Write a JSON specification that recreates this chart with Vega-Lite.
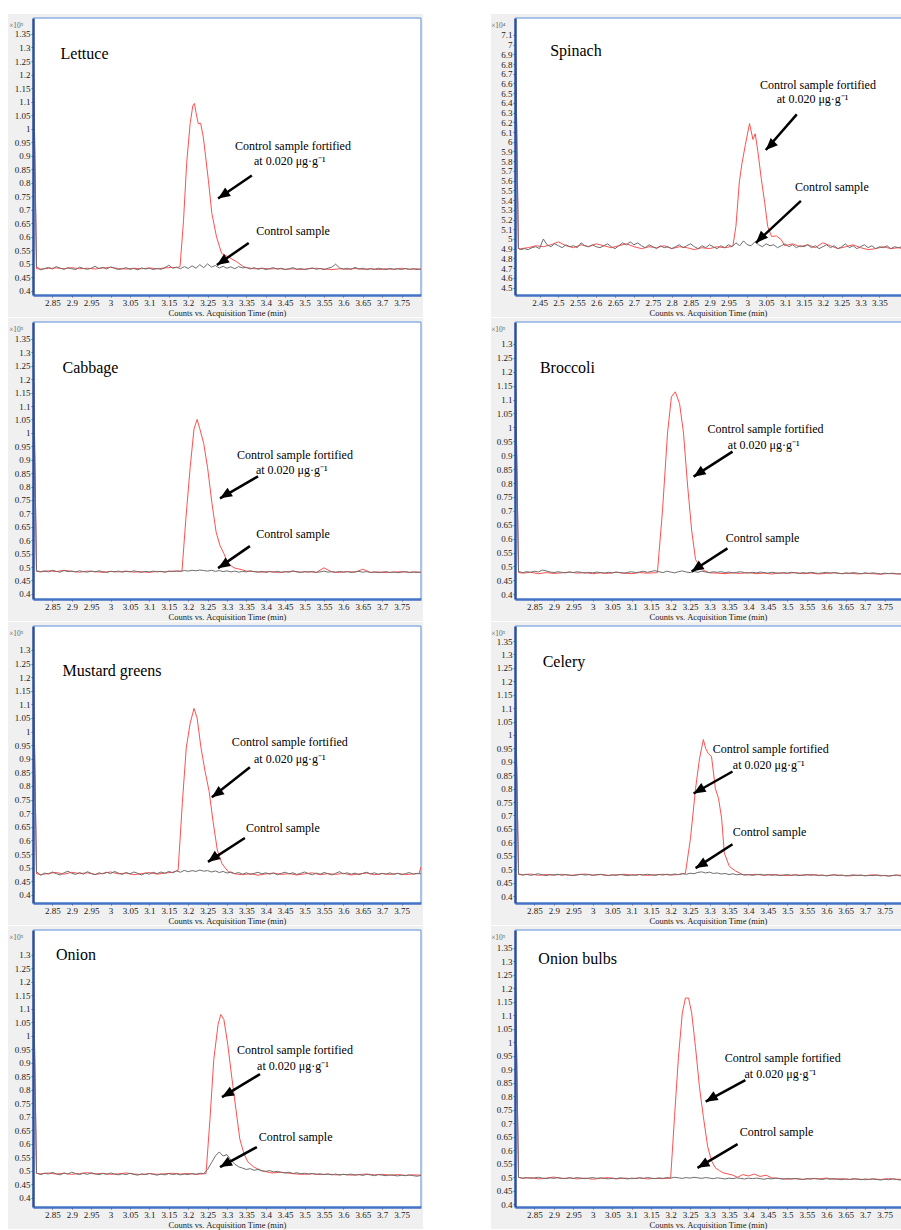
{
"$schema": "https://vega.github.io/schema/vega-lite/v6.json",
"background": "white",
"padding": {"left": 8, "top": 13, "right": 0, "bottom": 0},
"config": {
  "view": {"stroke": null},
  "axis": {"labelFont": "Liberation Serif", "titleFont": "Liberation Serif", "labelFontSize": 9, "labelColor": "#1a1a1a", "tickColor": "#444", "tickSize": 2, "tickWidth": 0.8, "grid": false, "titleFontWeight": "normal", "domainWidth": 2.5, "labelPadding": 1, "labelOverlap": false, "labelFlush": false, "tickCount": 100},
  "axisX": {"domainColor": "#4472c4", "titleFontSize": 8.5, "titlePadding": 1, "labelAngle": 0, "titleColor": "#1a1a1a"},
  "axisY": {"domainColor": "#2b4f9c", "titleAngle": 0, "titleAlign": "right", "titleBaseline": "middle", "titleX": -10, "titleY": 7, "titleFontSize": 7.5, "titleColor": "#666"},
  "text": {"font": "Liberation Serif", "color": "black"}
},
"datasets": {
"sig": [
{"p":"Lettuce","s":"F","t":[2.801,2.809,2.82,2.84,2.86,2.88,2.9,2.92,2.94,2.96,2.98,3,3.02,3.04,3.06,3.08,3.1,3.12,3.14,3.16,3.17,3.179,3.188,3.196,3.205,3.212,3.216,3.22,3.226,3.232,3.239,3.252,3.261,3.273,3.286,3.303,3.325,3.34,3.35,3.37,3.39,3.41,3.43,3.45,3.47,3.49,3.51,3.53,3.55,3.57,3.59,3.61,3.63,3.65,3.67,3.69,3.71,3.73,3.75,3.77,3.79,3.8],
 "v":[1.27,0.482,0.481,0.483,0.485,0.482,0.486,0.482,0.484,0.481,0.485,0.487,0.483,0.481,0.484,0.482,0.485,0.482,0.485,0.487,0.486,0.49,0.661,0.871,1.019,1.085,1.093,1.06,1.018,1.02,0.968,0.809,0.686,0.6,0.539,0.526,0.508,0.492,0.486,0.482,0.484,0.481,0.483,0.48,0.482,0.479,0.482,0.484,0.481,0.479,0.482,0.48,0.483,0.48,0.482,0.479,0.482,0.48,0.484,0.48,0.482,0.48]},
{"p":"Lettuce","s":"C","t":[2.801,2.809,2.82,2.83,2.84,2.85,2.86,2.87,2.88,2.89,2.9,2.91,2.92,2.93,2.94,2.95,2.96,2.97,2.98,2.99,3,3.01,3.02,3.03,3.04,3.05,3.06,3.07,3.08,3.09,3.1,3.11,3.12,3.13,3.14,3.15,3.16,3.17,3.18,3.19,3.2,3.21,3.22,3.23,3.24,3.25,3.26,3.27,3.28,3.29,3.3,3.31,3.32,3.33,3.34,3.35,3.36,3.37,3.38,3.39,3.4,3.41,3.42,3.43,3.44,3.45,3.46,3.47,3.48,3.49,3.5,3.51,3.52,3.53,3.54,3.55,3.56,3.57,3.58,3.59,3.6,3.61,3.62,3.63,3.64,3.65,3.66,3.67,3.68,3.69,3.7,3.71,3.72,3.73,3.74,3.75,3.76,3.77,3.78,3.79,3.8],
 "v":[1.28,0.49,0.478,0.483,0.487,0.481,0.49,0.484,0.48,0.486,0.482,0.479,0.488,0.483,0.48,0.484,0.491,0.483,0.487,0.481,0.489,0.484,0.479,0.482,0.486,0.48,0.483,0.478,0.485,0.481,0.484,0.479,0.483,0.48,0.486,0.495,0.484,0.488,0.482,0.49,0.483,0.493,0.484,0.497,0.486,0.5,0.488,0.494,0.485,0.491,0.484,0.489,0.482,0.49,0.485,0.487,0.481,0.486,0.48,0.484,0.479,0.483,0.486,0.48,0.484,0.479,0.482,0.486,0.48,0.483,0.479,0.482,0.485,0.48,0.483,0.479,0.484,0.488,0.499,0.485,0.481,0.484,0.48,0.487,0.481,0.484,0.479,0.482,0.48,0.484,0.481,0.479,0.483,0.48,0.482,0.479,0.483,0.48,0.482,0.479,0.481]},
{"p":"Spinach","s":"F","t":[2.386,2.394,2.4,2.42,2.44,2.46,2.48,2.5,2.52,2.54,2.56,2.58,2.6,2.62,2.64,2.66,2.68,2.7,2.72,2.74,2.76,2.78,2.8,2.82,2.84,2.86,2.88,2.9,2.92,2.94,2.955,2.962,2.97,2.979,2.986,2.995,3.006,3.015,3.021,3.028,3.037,3.046,3.054,3.064,3.077,3.09,3.099,3.12,3.14,3.16,3.18,3.2,3.22,3.24,3.26,3.28,3.3,3.32,3.34,3.36,3.38,3.4,3.41],
 "v":[7.12,4.9,4.9,4.91,4.93,4.92,4.94,4.97,4.93,4.91,4.94,4.92,4.95,4.93,4.91,4.93,4.95,4.92,4.9,4.92,4.91,4.93,4.9,4.92,4.91,4.89,4.91,4.9,4.92,4.91,4.92,4.93,5.132,5.587,5.779,5.971,6.188,6.023,6.083,5.901,5.622,5.377,5.13,5.027,5.03,4.993,4.93,4.95,4.92,4.94,4.91,4.96,4.93,4.9,4.92,4.94,4.91,4.89,4.9,4.92,4.9,4.91,4.9]},
{"p":"Spinach","s":"C","t":[2.386,2.394,2.4,2.41,2.42,2.43,2.44,2.45,2.46,2.47,2.48,2.49,2.5,2.51,2.52,2.53,2.54,2.55,2.56,2.57,2.58,2.59,2.6,2.61,2.62,2.63,2.64,2.65,2.66,2.67,2.68,2.69,2.7,2.71,2.72,2.73,2.74,2.75,2.76,2.77,2.78,2.79,2.8,2.81,2.82,2.83,2.84,2.85,2.86,2.87,2.88,2.89,2.9,2.91,2.92,2.93,2.94,2.95,2.96,2.97,2.98,2.99,3,3.01,3.02,3.03,3.04,3.05,3.06,3.07,3.08,3.09,3.1,3.11,3.12,3.13,3.14,3.15,3.16,3.17,3.18,3.19,3.2,3.21,3.22,3.23,3.24,3.25,3.26,3.27,3.28,3.29,3.3,3.31,3.32,3.33,3.34,3.35,3.36,3.37,3.38,3.39,3.4,3.41],
 "v":[7.1,4.9,4.89,4.9,4.89,4.91,4.92,4.9,5,4.94,4.92,4.95,4.93,4.91,4.94,4.92,4.93,4.91,4.96,4.93,4.92,4.94,4.92,4.91,4.93,4.95,4.92,4.9,4.93,4.96,4.94,4.97,4.94,4.96,4.93,4.91,4.94,4.92,4.9,4.93,4.91,4.92,4.9,4.92,4.94,4.91,4.93,4.95,4.92,4.9,4.93,4.91,4.94,4.92,4.9,4.93,4.91,4.94,4.92,4.96,4.93,4.98,4.94,4.93,4.97,4.94,4.92,4.95,4.93,4.94,4.91,4.93,4.95,4.92,4.94,4.91,4.93,4.92,4.94,4.91,4.93,4.9,4.92,4.94,4.91,4.93,4.9,4.92,4.95,4.91,4.93,4.9,4.92,4.94,4.91,4.93,4.9,4.92,4.91,4.93,4.9,4.92,4.91,4.92]},
{"p":"Cabbage","s":"F","t":[2.801,2.809,2.82,2.84,2.86,2.88,2.9,2.92,2.94,2.96,2.98,3,3.02,3.04,3.06,3.08,3.1,3.12,3.14,3.16,3.17,3.184,3.194,3.205,3.215,3.223,3.23,3.24,3.25,3.261,3.272,3.282,3.292,3.302,3.318,3.339,3.35,3.37,3.39,3.41,3.43,3.45,3.47,3.49,3.51,3.53,3.55,3.57,3.59,3.61,3.63,3.65,3.67,3.69,3.71,3.73,3.75,3.77,3.79,3.8],
 "v":[1.27,0.484,0.482,0.486,0.483,0.488,0.484,0.481,0.485,0.483,0.48,0.484,0.482,0.485,0.481,0.483,0.48,0.484,0.482,0.485,0.484,0.485,0.68,0.87,1.015,1.05,1.015,0.96,0.87,0.74,0.63,0.58,0.55,0.515,0.497,0.49,0.485,0.483,0.481,0.484,0.48,0.482,0.485,0.481,0.483,0.48,0.497,0.482,0.48,0.483,0.481,0.492,0.48,0.482,0.479,0.481,0.483,0.48,0.482,0.48]},
{"p":"Cabbage","s":"C","t":[2.801,2.809,2.82,2.83,2.84,2.85,2.86,2.87,2.88,2.89,2.9,2.91,2.92,2.93,2.94,2.95,2.96,2.97,2.98,2.99,3,3.01,3.02,3.03,3.04,3.05,3.06,3.07,3.08,3.09,3.1,3.11,3.12,3.13,3.14,3.15,3.16,3.17,3.18,3.19,3.2,3.21,3.22,3.23,3.24,3.25,3.26,3.27,3.28,3.29,3.3,3.31,3.32,3.33,3.34,3.35,3.36,3.37,3.38,3.39,3.4,3.41,3.42,3.43,3.44,3.45,3.46,3.47,3.48,3.49,3.5,3.51,3.52,3.53,3.54,3.55,3.56,3.57,3.58,3.59,3.6,3.61,3.62,3.63,3.64,3.65,3.66,3.67,3.68,3.69,3.7,3.71,3.72,3.73,3.74,3.75,3.76,3.77,3.78,3.79,3.8],
 "v":[1.28,0.486,0.483,0.486,0.482,0.488,0.484,0.481,0.487,0.483,0.485,0.482,0.486,0.483,0.481,0.485,0.482,0.486,0.483,0.48,0.484,0.482,0.485,0.481,0.484,0.482,0.486,0.483,0.48,0.484,0.482,0.485,0.482,0.484,0.481,0.485,0.483,0.486,0.484,0.487,0.485,0.488,0.486,0.489,0.487,0.485,0.488,0.484,0.487,0.483,0.486,0.482,0.485,0.481,0.484,0.482,0.486,0.483,0.481,0.484,0.48,0.483,0.481,0.484,0.48,0.483,0.481,0.485,0.482,0.48,0.483,0.481,0.484,0.48,0.482,0.485,0.481,0.483,0.48,0.484,0.481,0.483,0.48,0.482,0.484,0.481,0.483,0.48,0.482,0.479,0.481,0.483,0.48,0.482,0.479,0.481,0.483,0.48,0.482,0.48,0.481]},
{"p":"Broccoli","s":"F","t":[2.801,2.809,2.82,2.84,2.86,2.88,2.9,2.92,2.94,2.96,2.98,3,3.02,3.04,3.06,3.08,3.1,3.12,3.14,3.155,3.166,3.179,3.192,3.202,3.212,3.223,3.233,3.243,3.254,3.264,3.279,3.3,3.32,3.34,3.36,3.38,3.4,3.42,3.44,3.46,3.48,3.5,3.52,3.54,3.56,3.58,3.6,3.62,3.64,3.66,3.68,3.7,3.72,3.74,3.76,3.78,3.8],
 "v":[1.21,0.478,0.476,0.479,0.474,0.478,0.475,0.477,0.48,0.476,0.478,0.474,0.477,0.475,0.479,0.476,0.474,0.478,0.476,0.477,0.478,0.7,0.98,1.11,1.128,1.085,0.98,0.8,0.63,0.525,0.49,0.477,0.476,0.474,0.477,0.475,0.478,0.474,0.476,0.473,0.477,0.475,0.478,0.474,0.476,0.473,0.475,0.477,0.474,0.476,0.473,0.475,0.474,0.472,0.475,0.473,0.474]},
{"p":"Broccoli","s":"C","t":[2.801,2.809,2.82,2.83,2.84,2.85,2.86,2.87,2.88,2.89,2.9,2.91,2.92,2.93,2.94,2.95,2.96,2.97,2.98,2.99,3,3.01,3.02,3.03,3.04,3.05,3.06,3.07,3.08,3.09,3.1,3.11,3.12,3.13,3.14,3.15,3.16,3.17,3.18,3.19,3.2,3.21,3.22,3.23,3.24,3.25,3.26,3.27,3.28,3.29,3.3,3.31,3.32,3.33,3.34,3.35,3.36,3.37,3.38,3.39,3.4,3.41,3.42,3.43,3.44,3.45,3.46,3.47,3.48,3.49,3.5,3.51,3.52,3.53,3.54,3.55,3.56,3.57,3.58,3.59,3.6,3.61,3.62,3.63,3.64,3.65,3.66,3.67,3.68,3.69,3.7,3.71,3.72,3.73,3.74,3.75,3.76,3.77,3.78,3.79,3.8],
 "v":[1.22,0.482,0.478,0.481,0.479,0.483,0.48,0.487,0.484,0.48,0.478,0.481,0.479,0.477,0.48,0.478,0.481,0.479,0.476,0.479,0.477,0.48,0.478,0.476,0.479,0.477,0.48,0.478,0.476,0.479,0.481,0.478,0.48,0.483,0.479,0.482,0.485,0.481,0.478,0.483,0.48,0.477,0.481,0.484,0.48,0.478,0.482,0.479,0.483,0.48,0.478,0.481,0.479,0.481,0.478,0.48,0.477,0.479,0.481,0.478,0.476,0.479,0.477,0.48,0.478,0.476,0.479,0.477,0.475,0.478,0.476,0.479,0.477,0.475,0.478,0.476,0.479,0.477,0.475,0.477,0.479,0.476,0.478,0.476,0.474,0.477,0.475,0.478,0.476,0.474,0.477,0.475,0.477,0.475,0.473,0.476,0.474,0.476,0.474,0.473,0.475]},
{"p":"Mustard","s":"F","t":[2.801,2.809,2.82,2.84,2.86,2.88,2.9,2.92,2.94,2.96,2.98,3,3.02,3.04,3.06,3.08,3.1,3.12,3.14,3.16,3.174,3.185,3.195,3.205,3.215,3.223,3.233,3.244,3.254,3.264,3.275,3.287,3.303,3.321,3.34,3.36,3.38,3.4,3.42,3.44,3.46,3.48,3.5,3.52,3.54,3.56,3.58,3.6,3.62,3.64,3.66,3.68,3.7,3.72,3.74,3.76,3.78,3.795,3.8],
 "v":[1.22,0.478,0.474,0.479,0.482,0.476,0.483,0.478,0.481,0.475,0.479,0.484,0.477,0.48,0.474,0.478,0.482,0.476,0.48,0.483,0.49,0.74,0.94,1.03,1.085,1.05,0.94,0.85,0.78,0.67,0.565,0.515,0.485,0.477,0.474,0.478,0.472,0.477,0.48,0.475,0.478,0.473,0.477,0.481,0.474,0.478,0.475,0.479,0.473,0.477,0.48,0.474,0.478,0.475,0.479,0.474,0.477,0.478,0.503]},
{"p":"Mustard","s":"C","t":[2.801,2.809,2.82,2.83,2.84,2.85,2.86,2.87,2.88,2.89,2.9,2.91,2.92,2.93,2.94,2.95,2.96,2.97,2.98,2.99,3,3.01,3.02,3.03,3.04,3.05,3.06,3.07,3.08,3.09,3.1,3.11,3.12,3.13,3.14,3.15,3.16,3.17,3.18,3.19,3.2,3.21,3.22,3.23,3.24,3.25,3.26,3.27,3.28,3.29,3.3,3.31,3.32,3.33,3.34,3.35,3.36,3.37,3.38,3.39,3.4,3.41,3.42,3.43,3.44,3.45,3.46,3.47,3.48,3.49,3.5,3.51,3.52,3.53,3.54,3.55,3.56,3.57,3.58,3.59,3.6,3.61,3.62,3.63,3.64,3.65,3.66,3.67,3.68,3.69,3.7,3.71,3.72,3.73,3.74,3.75,3.76,3.77,3.78,3.79,3.8],
 "v":[1.23,0.485,0.472,0.48,0.476,0.484,0.478,0.473,0.481,0.487,0.479,0.475,0.482,0.476,0.485,0.479,0.474,0.481,0.477,0.483,0.478,0.486,0.48,0.475,0.482,0.477,0.484,0.479,0.473,0.48,0.476,0.483,0.478,0.484,0.479,0.486,0.481,0.488,0.483,0.49,0.485,0.489,0.486,0.491,0.487,0.489,0.484,0.488,0.482,0.486,0.48,0.484,0.478,0.482,0.476,0.481,0.475,0.479,0.483,0.477,0.481,0.476,0.48,0.474,0.479,0.483,0.477,0.481,0.475,0.479,0.484,0.478,0.474,0.48,0.476,0.482,0.478,0.473,0.479,0.485,0.477,0.481,0.476,0.48,0.474,0.479,0.483,0.477,0.481,0.475,0.479,0.476,0.481,0.475,0.479,0.474,0.478,0.482,0.476,0.479,0.477]},
{"p":"Celery","s":"F","t":[2.801,2.809,2.82,2.84,2.86,2.88,2.9,2.92,2.94,2.96,2.98,3,3.02,3.04,3.06,3.08,3.1,3.12,3.14,3.16,3.18,3.2,3.22,3.238,3.251,3.264,3.274,3.284,3.29,3.297,3.305,3.315,3.323,3.331,3.338,3.351,3.367,3.385,3.4,3.42,3.44,3.46,3.48,3.5,3.52,3.54,3.56,3.58,3.6,3.62,3.64,3.66,3.68,3.7,3.72,3.74,3.76,3.78,3.8],
 "v":[1.17,0.48,0.479,0.482,0.477,0.48,0.478,0.481,0.477,0.479,0.482,0.478,0.48,0.477,0.479,0.481,0.478,0.48,0.477,0.479,0.481,0.478,0.48,0.485,0.615,0.8,0.91,0.983,0.95,0.93,0.92,0.8,0.764,0.69,0.56,0.51,0.493,0.48,0.479,0.481,0.477,0.48,0.478,0.476,0.479,0.477,0.48,0.478,0.476,0.479,0.477,0.475,0.478,0.476,0.479,0.477,0.475,0.478,0.477]},
{"p":"Celery","s":"C","t":[2.801,2.809,2.82,2.83,2.84,2.85,2.86,2.87,2.88,2.89,2.9,2.91,2.92,2.93,2.94,2.95,2.96,2.97,2.98,2.99,3,3.01,3.02,3.03,3.04,3.05,3.06,3.07,3.08,3.09,3.1,3.11,3.12,3.13,3.14,3.15,3.16,3.17,3.18,3.19,3.2,3.21,3.22,3.23,3.24,3.25,3.26,3.27,3.28,3.29,3.3,3.31,3.32,3.33,3.34,3.35,3.36,3.37,3.38,3.39,3.4,3.41,3.42,3.43,3.44,3.45,3.46,3.47,3.48,3.49,3.5,3.51,3.52,3.53,3.54,3.55,3.56,3.57,3.58,3.59,3.6,3.61,3.62,3.63,3.64,3.65,3.66,3.67,3.68,3.69,3.7,3.71,3.72,3.73,3.74,3.75,3.76,3.77,3.78,3.79,3.8],
 "v":[1.18,0.483,0.478,0.481,0.477,0.48,0.483,0.479,0.476,0.48,0.478,0.481,0.477,0.48,0.478,0.476,0.479,0.481,0.478,0.48,0.477,0.479,0.481,0.478,0.476,0.479,0.477,0.48,0.478,0.476,0.479,0.477,0.48,0.478,0.481,0.479,0.477,0.48,0.478,0.481,0.479,0.482,0.48,0.483,0.481,0.485,0.483,0.488,0.49,0.486,0.489,0.484,0.486,0.482,0.484,0.48,0.483,0.479,0.481,0.478,0.48,0.477,0.479,0.481,0.478,0.48,0.477,0.479,0.476,0.478,0.48,0.477,0.479,0.476,0.478,0.48,0.477,0.479,0.476,0.478,0.475,0.477,0.479,0.476,0.478,0.475,0.477,0.479,0.476,0.478,0.475,0.477,0.476,0.478,0.475,0.477,0.474,0.476,0.478,0.475,0.477]},
{"p":"Onion","s":"F","t":[2.801,2.809,2.82,2.84,2.86,2.88,2.9,2.92,2.94,2.96,2.98,3,3.02,3.04,3.06,3.08,3.1,3.12,3.14,3.16,3.18,3.2,3.22,3.24,3.246,3.256,3.266,3.277,3.284,3.292,3.302,3.313,3.323,3.333,3.344,3.354,3.369,3.39,3.416,3.44,3.46,3.48,3.5,3.52,3.54,3.56,3.58,3.6,3.62,3.64,3.66,3.68,3.7,3.72,3.74,3.76,3.78,3.8],
 "v":[1.24,0.49,0.489,0.492,0.488,0.491,0.487,0.49,0.493,0.488,0.491,0.487,0.489,0.492,0.488,0.486,0.49,0.487,0.489,0.491,0.488,0.49,0.487,0.489,0.49,0.69,0.913,1.042,1.079,1.06,0.968,0.839,0.728,0.618,0.562,0.533,0.514,0.5,0.492,0.495,0.491,0.488,0.487,0.489,0.486,0.488,0.485,0.487,0.484,0.486,0.488,0.485,0.487,0.484,0.486,0.483,0.485,0.484]},
{"p":"Onion","s":"C","t":[2.801,2.809,2.82,2.83,2.84,2.85,2.86,2.87,2.88,2.89,2.9,2.91,2.92,2.93,2.94,2.95,2.96,2.97,2.98,2.99,3,3.01,3.02,3.03,3.04,3.05,3.06,3.07,3.08,3.09,3.1,3.11,3.12,3.13,3.14,3.15,3.16,3.17,3.18,3.19,3.2,3.21,3.22,3.23,3.24,3.25,3.26,3.27,3.28,3.29,3.3,3.31,3.32,3.33,3.34,3.35,3.36,3.37,3.38,3.39,3.4,3.41,3.42,3.43,3.44,3.45,3.46,3.47,3.48,3.49,3.5,3.51,3.52,3.53,3.54,3.55,3.56,3.57,3.58,3.59,3.6,3.61,3.62,3.63,3.64,3.65,3.66,3.67,3.68,3.69,3.7,3.71,3.72,3.73,3.74,3.75,3.76,3.77,3.78,3.79,3.8],
 "v":[1.25,0.492,0.486,0.491,0.488,0.494,0.489,0.485,0.492,0.488,0.495,0.49,0.486,0.491,0.487,0.493,0.489,0.486,0.49,0.487,0.492,0.488,0.485,0.489,0.486,0.491,0.487,0.484,0.489,0.486,0.49,0.487,0.484,0.488,0.485,0.49,0.486,0.489,0.485,0.488,0.486,0.49,0.487,0.491,0.49,0.505,0.53,0.555,0.57,0.555,0.56,0.54,0.525,0.515,0.51,0.505,0.508,0.502,0.505,0.5,0.498,0.501,0.496,0.498,0.494,0.492,0.495,0.49,0.493,0.489,0.491,0.488,0.49,0.487,0.489,0.486,0.488,0.485,0.488,0.484,0.487,0.485,0.488,0.484,0.486,0.483,0.487,0.485,0.482,0.486,0.484,0.482,0.485,0.483,0.481,0.484,0.482,0.485,0.482,0.48,0.483]},
{"p":"Bulbs","s":"F","t":[2.801,2.809,2.82,2.84,2.86,2.88,2.9,2.92,2.94,2.96,2.98,3,3.02,3.04,3.06,3.08,3.1,3.12,3.14,3.16,3.18,3.2,3.21,3.22,3.23,3.238,3.246,3.254,3.264,3.274,3.284,3.295,3.305,3.315,3.326,3.336,3.346,3.36,3.372,3.385,3.4,3.415,3.43,3.445,3.46,3.48,3.5,3.52,3.54,3.56,3.58,3.6,3.62,3.64,3.66,3.68,3.7,3.72,3.74,3.76,3.78,3.8],
 "v":[1.27,0.5,0.496,0.499,0.494,0.497,0.501,0.495,0.498,0.494,0.497,0.493,0.496,0.499,0.494,0.497,0.495,0.498,0.494,0.496,0.495,0.497,0.725,0.944,1.109,1.164,1.164,1.109,0.98,0.835,0.725,0.615,0.561,0.535,0.524,0.516,0.513,0.508,0.5,0.51,0.505,0.512,0.503,0.508,0.498,0.496,0.493,0.495,0.492,0.496,0.494,0.497,0.493,0.495,0.492,0.494,0.491,0.494,0.492,0.495,0.493,0.492]},
{"p":"Bulbs","s":"C","t":[2.801,2.809,2.82,2.83,2.84,2.85,2.86,2.87,2.88,2.89,2.9,2.91,2.92,2.93,2.94,2.95,2.96,2.97,2.98,2.99,3,3.01,3.02,3.03,3.04,3.05,3.06,3.07,3.08,3.09,3.1,3.11,3.12,3.13,3.14,3.15,3.16,3.17,3.18,3.19,3.2,3.21,3.22,3.23,3.24,3.25,3.26,3.27,3.28,3.29,3.3,3.31,3.32,3.33,3.34,3.35,3.36,3.37,3.38,3.39,3.4,3.41,3.42,3.43,3.44,3.45,3.46,3.47,3.48,3.49,3.5,3.51,3.52,3.53,3.54,3.55,3.56,3.57,3.58,3.59,3.6,3.61,3.62,3.63,3.64,3.65,3.66,3.67,3.68,3.69,3.7,3.71,3.72,3.73,3.74,3.75,3.76,3.77,3.78,3.79,3.8],
 "v":[1.28,0.5,0.497,0.499,0.496,0.498,0.5,0.497,0.495,0.498,0.496,0.499,0.497,0.495,0.498,0.496,0.499,0.497,0.495,0.497,0.499,0.496,0.498,0.496,0.494,0.497,0.495,0.498,0.496,0.494,0.497,0.495,0.498,0.496,0.499,0.497,0.495,0.498,0.496,0.499,0.497,0.5,0.498,0.496,0.499,0.497,0.5,0.498,0.496,0.499,0.497,0.495,0.498,0.496,0.494,0.497,0.495,0.498,0.496,0.494,0.497,0.495,0.497,0.495,0.493,0.496,0.494,0.497,0.495,0.493,0.496,0.494,0.496,0.494,0.492,0.495,0.493,0.496,0.494,0.492,0.495,0.493,0.495,0.493,0.491,0.494,0.492,0.495,0.493,0.491,0.494,0.492,0.494,0.492,0.49,0.493,0.491,0.494,0.492,0.49,0.493]}
],
"ann": [
{"p":"Lettuce","k":"name","x":2.871,"y":1.276,"txt":"Lettuce"},
{"p":"Lettuce","k":"lbl","x":3.47,"y":0.934,"txt":"Control sample fortified"},
{"p":"Lettuce","k":"lbl","x":3.462,"y":0.879,"txt":"at 0.020 μg·g⁻¹"},
{"p":"Lettuce","k":"lbl","x":3.47,"y":0.621,"txt":"Control sample"},
{"p":"Lettuce","k":"arrow","x":3.364,"y":0.827,"x2":3.277,"y2":0.742},
{"p":"Lettuce","k":"arrow","x":3.356,"y":0.577,"x2":3.274,"y2":0.496},
{"p":"Spinach","k":"name","x":2.478,"y":6.932,"txt":"Spinach"},
{"p":"Spinach","k":"lbl","x":3.187,"y":6.586,"txt":"Control sample fortified"},
{"p":"Spinach","k":"lbl","x":3.173,"y":6.439,"txt":"at 0.020 μg·g⁻¹"},
{"p":"Spinach","k":"lbl","x":3.224,"y":5.538,"txt":"Control sample"},
{"p":"Spinach","k":"arrow","x":3.131,"y":6.282,"x2":3.049,"y2":5.915},
{"p":"Spinach","k":"arrow","x":3.142,"y":5.391,"x2":3.023,"y2":4.961},
{"p":"Cabbage","k":"name","x":2.876,"y":1.242,"txt":"Cabbage"},
{"p":"Cabbage","k":"lbl","x":3.475,"y":0.919,"txt":"Control sample fortified"},
{"p":"Cabbage","k":"lbl","x":3.467,"y":0.86,"txt":"at 0.020 μg·g⁻¹"},
{"p":"Cabbage","k":"lbl","x":3.47,"y":0.623,"txt":"Control sample"},
{"p":"Cabbage","k":"arrow","x":3.38,"y":0.838,"x2":3.282,"y2":0.756},
{"p":"Cabbage","k":"arrow","x":3.359,"y":0.578,"x2":3.277,"y2":0.496},
{"p":"Broccoli","k":"name","x":2.864,"y":1.214,"txt":"Broccoli"},
{"p":"Broccoli","k":"lbl","x":3.444,"y":0.995,"txt":"Control sample fortified"},
{"p":"Broccoli","k":"lbl","x":3.439,"y":0.938,"txt":"at 0.020 μg·g⁻¹"},
{"p":"Broccoli","k":"lbl","x":3.436,"y":0.601,"txt":"Control sample"},
{"p":"Broccoli","k":"arrow","x":3.359,"y":0.913,"x2":3.259,"y2":0.823},
{"p":"Broccoli","k":"arrow","x":3.346,"y":0.565,"x2":3.254,"y2":0.482},
{"p":"Mustard","k":"name","x":2.876,"y":1.224,"txt":"Mustard greens"},
{"p":"Mustard","k":"lbl","x":3.462,"y":0.96,"txt":"Control sample fortified"},
{"p":"Mustard","k":"lbl","x":3.462,"y":0.898,"txt":"at 0.020 μg·g⁻¹"},
{"p":"Mustard","k":"lbl","x":3.444,"y":0.645,"txt":"Control sample"},
{"p":"Mustard","k":"arrow","x":3.359,"y":0.869,"x2":3.261,"y2":0.759},
{"p":"Mustard","k":"arrow","x":3.346,"y":0.609,"x2":3.251,"y2":0.521},
{"p":"Celery","k":"name","x":2.871,"y":1.272,"txt":"Celery"},
{"p":"Celery","k":"lbl","x":3.457,"y":0.949,"txt":"Control sample fortified"},
{"p":"Celery","k":"lbl","x":3.452,"y":0.89,"txt":"at 0.020 μg·g⁻¹"},
{"p":"Celery","k":"lbl","x":3.454,"y":0.637,"txt":"Control sample"},
{"p":"Celery","k":"arrow","x":3.359,"y":0.864,"x2":3.259,"y2":0.782},
{"p":"Celery","k":"arrow","x":3.359,"y":0.593,"x2":3.264,"y2":0.504},
{"p":"Onion","k":"name","x":2.859,"y":1.3,"txt":"Onion"},
{"p":"Onion","k":"lbl","x":3.475,"y":0.946,"txt":"Control sample fortified"},
{"p":"Onion","k":"lbl","x":3.47,"y":0.887,"txt":"at 0.020 μg·g⁻¹"},
{"p":"Onion","k":"lbl","x":3.477,"y":0.625,"txt":"Control sample"},
{"p":"Onion","k":"arrow","x":3.385,"y":0.858,"x2":3.287,"y2":0.773},
{"p":"Onion","k":"arrow","x":3.377,"y":0.588,"x2":3.282,"y2":0.514},
{"p":"Bulbs","k":"name","x":2.86,"y":1.31,"txt":"Onion bulbs"},
{"p":"Bulbs","k":"lbl","x":3.488,"y":0.941,"txt":"Control sample fortified"},
{"p":"Bulbs","k":"lbl","x":3.482,"y":0.882,"txt":"at 0.020 μg·g⁻¹"},
{"p":"Bulbs","k":"lbl","x":3.472,"y":0.667,"txt":"Control sample"},
{"p":"Bulbs","k":"arrow","x":3.392,"y":0.86,"x2":3.29,"y2":0.78},
{"p":"Bulbs","k":"arrow","x":3.372,"y":0.623,"x2":3.269,"y2":0.535}
]
},
"columns": 2,
"spacing": {"row": 27, "column": 94},
"bounds": "flush",
"concat": [
{"width": 388, "height": 277, "layer": [
 {"data": {"values": [{}]}, "mark": {"type": "rect", "color": "#f0f0f0"}, "encoding": {
   "x": {"datum": 2.7356, "type": "quantitative", "scale": {"domain": [2.8, 3.8], "nice": false, "zero": false}, "axis": {"zindex": 1, "tickCount": 100, "labelOverlap": false, "format": ".3~g", "values": [2.85,2.9,2.95,3,3.05,3.1,3.15,3.2,3.25,3.3,3.35,3.4,3.45,3.5,3.55,3.6,3.65,3.7,3.75], "title": "Counts vs. Acquisition Time (min)"}},
   "x2": {"datum": 3.8052},
   "y": {"datum": 0.3035, "type": "quantitative", "scale": {"domain": [0.385, 1.409], "nice": false, "zero": false}, "axis": {"zindex": 1, "tickCount": 100, "labelOverlap": false, "format": ".3~g", "values": [0.4,0.45,0.5,0.55,0.6,0.65,0.7,0.75,0.8,0.85,0.9,0.95,1,1.05,1.1,1.15,1.2,1.25,1.3,1.35], "title": "×10⁵"}},
   "y2": {"datum": 1.424}}},
 {"data": {"values": [{}]}, "mark": {"type": "rect", "color": "white"}, "encoding": {"x": {"datum": 2.8, "type": "quantitative"}, "x2": {"datum": 3.8}, "y": {"datum": 0.385, "type": "quantitative"}, "y2": {"datum": 1.409}}},
 {"data": {"values": [{}]}, "mark": {"type": "rule", "color": "#8fb0e6", "strokeWidth": 1.5}, "encoding": {"x": {"datum": 2.8, "type": "quantitative"}, "x2": {"datum": 3.8}, "y": {"datum": 1.409, "type": "quantitative"}}},
 {"data": {"values": [{}]}, "mark": {"type": "rule", "color": "#8fb0e6", "strokeWidth": 1.5}, "encoding": {"x": {"datum": 3.8, "type": "quantitative"}, "y": {"datum": 0.385, "type": "quantitative"}, "y2": {"datum": 1.409}}},
 {"data": {"name": "sig"}, "transform": [{"filter": "datum.p=='Lettuce' && datum.s=='F'"}, {"flatten": ["t","v"]}], "mark": {"type": "line", "color": "#ff5050", "strokeWidth": 1, "clip": true}, "encoding": {"x": {"field": "t", "type": "quantitative"}, "y": {"field": "v", "type": "quantitative"}}},
 {"data": {"name": "sig"}, "transform": [{"filter": "datum.p=='Lettuce' && datum.s=='C'"}, {"flatten": ["t","v"]}], "mark": {"type": "line", "color": "#6e6e6e", "strokeWidth": 1, "clip": true}, "encoding": {"x": {"field": "t", "type": "quantitative"}, "y": {"field": "v", "type": "quantitative"}}},
 {"data": {"name": "ann"}, "transform": [{"filter": "datum.p=='Lettuce' && datum.k=='name'"}], "mark": {"type": "text", "align": "left", "baseline": "middle", "fontSize": 16}, "encoding": {"x": {"field": "x", "type": "quantitative"}, "y": {"field": "y", "type": "quantitative"}, "text": {"field": "txt"}}},
 {"data": {"name": "ann"}, "transform": [{"filter": "datum.p=='Lettuce' && datum.k=='lbl'"}], "mark": {"type": "text", "align": "center", "baseline": "middle", "fontSize": 12}, "encoding": {"x": {"field": "x", "type": "quantitative"}, "y": {"field": "y", "type": "quantitative"}, "text": {"field": "txt"}}},
 {"data": {"name": "ann"}, "transform": [{"filter": "datum.p=='Lettuce' && datum.k=='arrow'"}], "mark": {"type": "rule", "color": "black", "strokeWidth": 2.5}, "encoding": {"x": {"field": "x", "type": "quantitative"}, "y": {"field": "y", "type": "quantitative"}, "x2": {"field": "x2"}, "y2": {"field": "y2"}}},
 {"data": {"name": "ann"}, "transform": [{"filter": "datum.p=='Lettuce' && datum.k=='arrow'"}], "mark": {"type": "point", "shape": "M0,0L0.85,2L-0.85,2Z", "filled": true, "color": "black", "opacity": 1, "size": 144, "angle": 236}, "encoding": {"x": {"field": "x2", "type": "quantitative"}, "y": {"field": "y2", "type": "quantitative"}}}
]},
{"width": 386, "height": 277, "layer": [
 {"data": {"values": [{}]}, "mark": {"type": "rect", "color": "#f0f0f0"}, "encoding": {
   "x": {"datum": 2.3215, "type": "quantitative", "scale": {"domain": [2.385, 3.407], "nice": false, "zero": false}, "axis": {"zindex": 1, "tickCount": 100, "labelOverlap": false, "format": ".3~g", "values": [2.45,2.5,2.55,2.6,2.65,2.7,2.75,2.8,2.85,2.9,2.95,3,3.05,3.1,3.15,3.2,3.25,3.3,3.35], "title": "Counts vs. Acquisition Time (min)"}},
   "x2": {"datum": 3.407},
   "y": {"datum": 4.197, "type": "quantitative", "scale": {"domain": [4.423, 7.274], "nice": false, "zero": false}, "axis": {"zindex": 1, "tickCount": 100, "labelOverlap": false, "format": ".3~g", "values": [4.5,4.6,4.7,4.8,4.9,5,5.1,5.2,5.3,5.4,5.5,5.6,5.7,5.8,5.9,6,6.1,6.2,6.3,6.4,6.5,6.6,6.7,6.8,6.9,7,7.1], "title": "×10⁴"}},
   "y2": {"datum": 7.315}}},
 {"data": {"values": [{}]}, "mark": {"type": "rect", "color": "white"}, "encoding": {"x": {"datum": 2.385, "type": "quantitative"}, "x2": {"datum": 3.407}, "y": {"datum": 4.423, "type": "quantitative"}, "y2": {"datum": 7.274}}},
 {"data": {"values": [{}]}, "mark": {"type": "rule", "color": "#8fb0e6", "strokeWidth": 1.5}, "encoding": {"x": {"datum": 2.385, "type": "quantitative"}, "x2": {"datum": 3.407}, "y": {"datum": 7.274, "type": "quantitative"}}},
 {"data": {"name": "sig"}, "transform": [{"filter": "datum.p=='Spinach' && datum.s=='F'"}, {"flatten": ["t","v"]}], "mark": {"type": "line", "color": "#ff5050", "strokeWidth": 1, "clip": true}, "encoding": {"x": {"field": "t", "type": "quantitative"}, "y": {"field": "v", "type": "quantitative"}}},
 {"data": {"name": "sig"}, "transform": [{"filter": "datum.p=='Spinach' && datum.s=='C'"}, {"flatten": ["t","v"]}], "mark": {"type": "line", "color": "#6e6e6e", "strokeWidth": 1, "clip": true}, "encoding": {"x": {"field": "t", "type": "quantitative"}, "y": {"field": "v", "type": "quantitative"}}},
 {"data": {"name": "ann"}, "transform": [{"filter": "datum.p=='Spinach' && datum.k=='name'"}], "mark": {"type": "text", "align": "left", "baseline": "middle", "fontSize": 16}, "encoding": {"x": {"field": "x", "type": "quantitative"}, "y": {"field": "y", "type": "quantitative"}, "text": {"field": "txt"}}},
 {"data": {"name": "ann"}, "transform": [{"filter": "datum.p=='Spinach' && datum.k=='lbl'"}], "mark": {"type": "text", "align": "center", "baseline": "middle", "fontSize": 12}, "encoding": {"x": {"field": "x", "type": "quantitative"}, "y": {"field": "y", "type": "quantitative"}, "text": {"field": "txt"}}},
 {"data": {"name": "ann"}, "transform": [{"filter": "datum.p=='Spinach' && datum.k=='arrow'"}], "mark": {"type": "rule", "color": "black", "strokeWidth": 2.5}, "encoding": {"x": {"field": "x", "type": "quantitative"}, "y": {"field": "y", "type": "quantitative"}, "x2": {"field": "x2"}, "y2": {"field": "y2"}}},
 {"data": {"name": "ann"}, "transform": [{"filter": "datum.p=='Spinach' && datum.k=='arrow'"}], "mark": {"type": "point", "shape": "M0,0L0.85,2L-0.85,2Z", "filled": true, "color": "black", "opacity": 1, "size": 144, "angle": 225}, "encoding": {"x": {"field": "x2", "type": "quantitative"}, "y": {"field": "y2", "type": "quantitative"}}}
]},
{"width": 388, "height": 277, "layer": [
 {"data": {"values": [{}]}, "mark": {"type": "rect", "color": "#f0f0f0"}, "encoding": {
   "x": {"datum": 2.7356, "type": "quantitative", "scale": {"domain": [2.8, 3.8], "nice": false, "zero": false}, "axis": {"zindex": 1, "tickCount": 100, "labelOverlap": false, "format": ".3~g", "values": [2.85,2.9,2.95,3,3.05,3.1,3.15,3.2,3.25,3.3,3.35,3.4,3.45,3.5,3.55,3.6,3.65,3.7,3.75], "title": "Counts vs. Acquisition Time (min)"}},
   "x2": {"datum": 3.8052},
   "y": {"datum": 0.299, "type": "quantitative", "scale": {"domain": [0.381, 1.413], "nice": false, "zero": false}, "axis": {"zindex": 1, "tickCount": 100, "labelOverlap": false, "format": ".3~g", "values": [0.4,0.45,0.5,0.55,0.6,0.65,0.7,0.75,0.8,0.85,0.9,0.95,1,1.05,1.1,1.15,1.2,1.25,1.3,1.35], "title": "×10⁵"}},
   "y2": {"datum": 1.428}}},
 {"data": {"values": [{}]}, "mark": {"type": "rect", "color": "white"}, "encoding": {"x": {"datum": 2.8, "type": "quantitative"}, "x2": {"datum": 3.8}, "y": {"datum": 0.381, "type": "quantitative"}, "y2": {"datum": 1.413}}},
 {"data": {"values": [{}]}, "mark": {"type": "rule", "color": "#8fb0e6", "strokeWidth": 1.5}, "encoding": {"x": {"datum": 2.8, "type": "quantitative"}, "x2": {"datum": 3.8}, "y": {"datum": 1.413, "type": "quantitative"}}},
 {"data": {"values": [{}]}, "mark": {"type": "rule", "color": "#8fb0e6", "strokeWidth": 1.5}, "encoding": {"x": {"datum": 3.8, "type": "quantitative"}, "y": {"datum": 0.381, "type": "quantitative"}, "y2": {"datum": 1.413}}},
 {"data": {"name": "sig"}, "transform": [{"filter": "datum.p=='Cabbage' && datum.s=='F'"}, {"flatten": ["t","v"]}], "mark": {"type": "line", "color": "#ff5050", "strokeWidth": 1, "clip": true}, "encoding": {"x": {"field": "t", "type": "quantitative"}, "y": {"field": "v", "type": "quantitative"}}},
 {"data": {"name": "sig"}, "transform": [{"filter": "datum.p=='Cabbage' && datum.s=='C'"}, {"flatten": ["t","v"]}], "mark": {"type": "line", "color": "#6e6e6e", "strokeWidth": 1, "clip": true}, "encoding": {"x": {"field": "t", "type": "quantitative"}, "y": {"field": "v", "type": "quantitative"}}},
 {"data": {"name": "ann"}, "transform": [{"filter": "datum.p=='Cabbage' && datum.k=='name'"}], "mark": {"type": "text", "align": "left", "baseline": "middle", "fontSize": 16}, "encoding": {"x": {"field": "x", "type": "quantitative"}, "y": {"field": "y", "type": "quantitative"}, "text": {"field": "txt"}}},
 {"data": {"name": "ann"}, "transform": [{"filter": "datum.p=='Cabbage' && datum.k=='lbl'"}], "mark": {"type": "text", "align": "center", "baseline": "middle", "fontSize": 12}, "encoding": {"x": {"field": "x", "type": "quantitative"}, "y": {"field": "y", "type": "quantitative"}, "text": {"field": "txt"}}},
 {"data": {"name": "ann"}, "transform": [{"filter": "datum.p=='Cabbage' && datum.k=='arrow'"}], "mark": {"type": "rule", "color": "black", "strokeWidth": 2.5}, "encoding": {"x": {"field": "x", "type": "quantitative"}, "y": {"field": "y", "type": "quantitative"}, "x2": {"field": "x2"}, "y2": {"field": "y2"}}},
 {"data": {"name": "ann"}, "transform": [{"filter": "datum.p=='Cabbage' && datum.k=='arrow'"}], "mark": {"type": "point", "shape": "M0,0L0.85,2L-0.85,2Z", "filled": true, "color": "black", "opacity": 1, "size": 144, "angle": 238}, "encoding": {"x": {"field": "x2", "type": "quantitative"}, "y": {"field": "y2", "type": "quantitative"}}}
]},
{"width": 386, "height": 277, "layer": [
 {"data": {"values": [{}]}, "mark": {"type": "rect", "color": "#f0f0f0"}, "encoding": {
   "x": {"datum": 2.7383, "type": "quantitative", "scale": {"domain": [2.8, 3.792], "nice": false, "zero": false}, "axis": {"zindex": 1, "tickCount": 100, "labelOverlap": false, "format": ".3~g", "values": [2.85,2.9,2.95,3,3.05,3.1,3.15,3.2,3.25,3.3,3.35,3.4,3.45,3.5,3.55,3.6,3.65,3.7,3.75], "title": "Counts vs. Acquisition Time (min)"}},
   "x2": {"datum": 3.792},
   "y": {"datum": 0.304, "type": "quantitative", "scale": {"domain": [0.383, 1.379], "nice": false, "zero": false}, "axis": {"zindex": 1, "tickCount": 100, "labelOverlap": false, "format": ".3~g", "values": [0.4,0.45,0.5,0.55,0.6,0.65,0.7,0.75,0.8,0.85,0.9,0.95,1,1.05,1.1,1.15,1.2,1.25,1.3], "title": "×10⁵"}},
   "y2": {"datum": 1.393}}},
 {"data": {"values": [{}]}, "mark": {"type": "rect", "color": "white"}, "encoding": {"x": {"datum": 2.8, "type": "quantitative"}, "x2": {"datum": 3.792}, "y": {"datum": 0.383, "type": "quantitative"}, "y2": {"datum": 1.379}}},
 {"data": {"values": [{}]}, "mark": {"type": "rule", "color": "#8fb0e6", "strokeWidth": 1.5}, "encoding": {"x": {"datum": 2.8, "type": "quantitative"}, "x2": {"datum": 3.792}, "y": {"datum": 1.379, "type": "quantitative"}}},
 {"data": {"name": "sig"}, "transform": [{"filter": "datum.p=='Broccoli' && datum.s=='F'"}, {"flatten": ["t","v"]}], "mark": {"type": "line", "color": "#ff5050", "strokeWidth": 1, "clip": true}, "encoding": {"x": {"field": "t", "type": "quantitative"}, "y": {"field": "v", "type": "quantitative"}}},
 {"data": {"name": "sig"}, "transform": [{"filter": "datum.p=='Broccoli' && datum.s=='C'"}, {"flatten": ["t","v"]}], "mark": {"type": "line", "color": "#6e6e6e", "strokeWidth": 1, "clip": true}, "encoding": {"x": {"field": "t", "type": "quantitative"}, "y": {"field": "v", "type": "quantitative"}}},
 {"data": {"name": "ann"}, "transform": [{"filter": "datum.p=='Broccoli' && datum.k=='name'"}], "mark": {"type": "text", "align": "left", "baseline": "middle", "fontSize": 16}, "encoding": {"x": {"field": "x", "type": "quantitative"}, "y": {"field": "y", "type": "quantitative"}, "text": {"field": "txt"}}},
 {"data": {"name": "ann"}, "transform": [{"filter": "datum.p=='Broccoli' && datum.k=='lbl'"}], "mark": {"type": "text", "align": "center", "baseline": "middle", "fontSize": 12}, "encoding": {"x": {"field": "x", "type": "quantitative"}, "y": {"field": "y", "type": "quantitative"}, "text": {"field": "txt"}}},
 {"data": {"name": "ann"}, "transform": [{"filter": "datum.p=='Broccoli' && datum.k=='arrow'"}], "mark": {"type": "rule", "color": "black", "strokeWidth": 2.5}, "encoding": {"x": {"field": "x", "type": "quantitative"}, "y": {"field": "y", "type": "quantitative"}, "x2": {"field": "x2"}, "y2": {"field": "y2"}}},
 {"data": {"name": "ann"}, "transform": [{"filter": "datum.p=='Broccoli' && datum.k=='arrow'"}], "mark": {"type": "point", "shape": "M0,0L0.85,2L-0.85,2Z", "filled": true, "color": "black", "opacity": 1, "size": 144, "angle": 236}, "encoding": {"x": {"field": "x2", "type": "quantitative"}, "y": {"field": "y2", "type": "quantitative"}}}
]},
{"width": 388, "height": 277, "layer": [
 {"data": {"values": [{}]}, "mark": {"type": "rect", "color": "#f0f0f0"}, "encoding": {
   "x": {"datum": 2.7356, "type": "quantitative", "scale": {"domain": [2.8, 3.8], "nice": false, "zero": false}, "axis": {"zindex": 1, "tickCount": 100, "labelOverlap": false, "format": ".3~g", "values": [2.85,2.9,2.95,3,3.05,3.1,3.15,3.2,3.25,3.3,3.35,3.4,3.45,3.5,3.55,3.6,3.65,3.7,3.75], "title": "Counts vs. Acquisition Time (min)"}},
   "x2": {"datum": 3.8052},
   "y": {"datum": 0.289, "type": "quantitative", "scale": {"domain": [0.37, 1.388], "nice": false, "zero": false}, "axis": {"zindex": 1, "tickCount": 100, "labelOverlap": false, "format": ".3~g", "values": [0.4,0.45,0.5,0.55,0.6,0.65,0.7,0.75,0.8,0.85,0.9,0.95,1,1.05,1.1,1.15,1.2,1.25,1.3], "title": "×10⁵"}},
   "y2": {"datum": 1.403}}},
 {"data": {"values": [{}]}, "mark": {"type": "rect", "color": "white"}, "encoding": {"x": {"datum": 2.8, "type": "quantitative"}, "x2": {"datum": 3.8}, "y": {"datum": 0.37, "type": "quantitative"}, "y2": {"datum": 1.388}}},
 {"data": {"values": [{}]}, "mark": {"type": "rule", "color": "#8fb0e6", "strokeWidth": 1.5}, "encoding": {"x": {"datum": 2.8, "type": "quantitative"}, "x2": {"datum": 3.8}, "y": {"datum": 1.388, "type": "quantitative"}}},
 {"data": {"values": [{}]}, "mark": {"type": "rule", "color": "#8fb0e6", "strokeWidth": 1.5}, "encoding": {"x": {"datum": 3.8, "type": "quantitative"}, "y": {"datum": 0.37, "type": "quantitative"}, "y2": {"datum": 1.388}}},
 {"data": {"name": "sig"}, "transform": [{"filter": "datum.p=='Mustard' && datum.s=='F'"}, {"flatten": ["t","v"]}], "mark": {"type": "line", "color": "#ff5050", "strokeWidth": 1, "clip": true}, "encoding": {"x": {"field": "t", "type": "quantitative"}, "y": {"field": "v", "type": "quantitative"}}},
 {"data": {"name": "sig"}, "transform": [{"filter": "datum.p=='Mustard' && datum.s=='C'"}, {"flatten": ["t","v"]}], "mark": {"type": "line", "color": "#6e6e6e", "strokeWidth": 1, "clip": true}, "encoding": {"x": {"field": "t", "type": "quantitative"}, "y": {"field": "v", "type": "quantitative"}}},
 {"data": {"name": "ann"}, "transform": [{"filter": "datum.p=='Mustard' && datum.k=='name'"}], "mark": {"type": "text", "align": "left", "baseline": "middle", "fontSize": 16}, "encoding": {"x": {"field": "x", "type": "quantitative"}, "y": {"field": "y", "type": "quantitative"}, "text": {"field": "txt"}}},
 {"data": {"name": "ann"}, "transform": [{"filter": "datum.p=='Mustard' && datum.k=='lbl'"}], "mark": {"type": "text", "align": "center", "baseline": "middle", "fontSize": 12}, "encoding": {"x": {"field": "x", "type": "quantitative"}, "y": {"field": "y", "type": "quantitative"}, "text": {"field": "txt"}}},
 {"data": {"name": "ann"}, "transform": [{"filter": "datum.p=='Mustard' && datum.k=='arrow'"}], "mark": {"type": "rule", "color": "black", "strokeWidth": 2.5}, "encoding": {"x": {"field": "x", "type": "quantitative"}, "y": {"field": "y", "type": "quantitative"}, "x2": {"field": "x2"}, "y2": {"field": "y2"}}},
 {"data": {"name": "ann"}, "transform": [{"filter": "datum.p=='Mustard' && datum.k=='arrow'"}], "mark": {"type": "point", "shape": "M0,0L0.85,2L-0.85,2Z", "filled": true, "color": "black", "opacity": 1, "size": 144, "angle": 234}, "encoding": {"x": {"field": "x2", "type": "quantitative"}, "y": {"field": "y2", "type": "quantitative"}}}
]},
{"width": 386, "height": 277, "layer": [
 {"data": {"values": [{}]}, "mark": {"type": "rect", "color": "#f0f0f0"}, "encoding": {
   "x": {"datum": 2.7383, "type": "quantitative", "scale": {"domain": [2.8, 3.792], "nice": false, "zero": false}, "axis": {"zindex": 1, "tickCount": 100, "labelOverlap": false, "format": ".3~g", "values": [2.85,2.9,2.95,3,3.05,3.1,3.15,3.2,3.25,3.3,3.35,3.4,3.45,3.5,3.55,3.6,3.65,3.7,3.75], "title": "Counts vs. Acquisition Time (min)"}},
   "x2": {"datum": 3.792},
   "y": {"datum": 0.292, "type": "quantitative", "scale": {"domain": [0.374, 1.406], "nice": false, "zero": false}, "axis": {"zindex": 1, "tickCount": 100, "labelOverlap": false, "format": ".3~g", "values": [0.4,0.45,0.5,0.55,0.6,0.65,0.7,0.75,0.8,0.85,0.9,0.95,1,1.05,1.1,1.15,1.2,1.25,1.3,1.35], "title": "×10⁵"}},
   "y2": {"datum": 1.421}}},
 {"data": {"values": [{}]}, "mark": {"type": "rect", "color": "white"}, "encoding": {"x": {"datum": 2.8, "type": "quantitative"}, "x2": {"datum": 3.792}, "y": {"datum": 0.374, "type": "quantitative"}, "y2": {"datum": 1.406}}},
 {"data": {"values": [{}]}, "mark": {"type": "rule", "color": "#8fb0e6", "strokeWidth": 1.5}, "encoding": {"x": {"datum": 2.8, "type": "quantitative"}, "x2": {"datum": 3.792}, "y": {"datum": 1.406, "type": "quantitative"}}},
 {"data": {"name": "sig"}, "transform": [{"filter": "datum.p=='Celery' && datum.s=='F'"}, {"flatten": ["t","v"]}], "mark": {"type": "line", "color": "#ff5050", "strokeWidth": 1, "clip": true}, "encoding": {"x": {"field": "t", "type": "quantitative"}, "y": {"field": "v", "type": "quantitative"}}},
 {"data": {"name": "sig"}, "transform": [{"filter": "datum.p=='Celery' && datum.s=='C'"}, {"flatten": ["t","v"]}], "mark": {"type": "line", "color": "#6e6e6e", "strokeWidth": 1, "clip": true}, "encoding": {"x": {"field": "t", "type": "quantitative"}, "y": {"field": "v", "type": "quantitative"}}},
 {"data": {"name": "ann"}, "transform": [{"filter": "datum.p=='Celery' && datum.k=='name'"}], "mark": {"type": "text", "align": "left", "baseline": "middle", "fontSize": 16}, "encoding": {"x": {"field": "x", "type": "quantitative"}, "y": {"field": "y", "type": "quantitative"}, "text": {"field": "txt"}}},
 {"data": {"name": "ann"}, "transform": [{"filter": "datum.p=='Celery' && datum.k=='lbl'"}], "mark": {"type": "text", "align": "center", "baseline": "middle", "fontSize": 12}, "encoding": {"x": {"field": "x", "type": "quantitative"}, "y": {"field": "y", "type": "quantitative"}, "text": {"field": "txt"}}},
 {"data": {"name": "ann"}, "transform": [{"filter": "datum.p=='Celery' && datum.k=='arrow'"}], "mark": {"type": "rule", "color": "black", "strokeWidth": 2.5}, "encoding": {"x": {"field": "x", "type": "quantitative"}, "y": {"field": "y", "type": "quantitative"}, "x2": {"field": "x2"}, "y2": {"field": "y2"}}},
 {"data": {"name": "ann"}, "transform": [{"filter": "datum.p=='Celery' && datum.k=='arrow'"}], "mark": {"type": "point", "shape": "M0,0L0.85,2L-0.85,2Z", "filled": true, "color": "black", "opacity": 1, "size": 144, "angle": 239}, "encoding": {"x": {"field": "x2", "type": "quantitative"}, "y": {"field": "y2", "type": "quantitative"}}}
]},
{"width": 388, "height": 277, "layer": [
 {"data": {"values": [{}]}, "mark": {"type": "rect", "color": "#f0f0f0"}, "encoding": {
   "x": {"datum": 2.7356, "type": "quantitative", "scale": {"domain": [2.8, 3.8], "nice": false, "zero": false}, "axis": {"zindex": 1, "tickCount": 100, "labelOverlap": false, "format": ".3~g", "values": [2.85,2.9,2.95,3,3.05,3.1,3.15,3.2,3.25,3.3,3.35,3.4,3.45,3.5,3.55,3.6,3.65,3.7,3.75], "title": "Counts vs. Acquisition Time (min)"}},
   "x2": {"datum": 3.8052},
   "y": {"datum": 0.2845, "type": "quantitative", "scale": {"domain": [0.366, 1.392], "nice": false, "zero": false}, "axis": {"zindex": 1, "tickCount": 100, "labelOverlap": false, "format": ".3~g", "values": [0.4,0.45,0.5,0.55,0.6,0.65,0.7,0.75,0.8,0.85,0.9,0.95,1,1.05,1.1,1.15,1.2,1.25,1.3], "title": "×10⁵"}},
   "y2": {"datum": 1.407}}},
 {"data": {"values": [{}]}, "mark": {"type": "rect", "color": "white"}, "encoding": {"x": {"datum": 2.8, "type": "quantitative"}, "x2": {"datum": 3.8}, "y": {"datum": 0.366, "type": "quantitative"}, "y2": {"datum": 1.392}}},
 {"data": {"values": [{}]}, "mark": {"type": "rule", "color": "#8fb0e6", "strokeWidth": 1.5}, "encoding": {"x": {"datum": 2.8, "type": "quantitative"}, "x2": {"datum": 3.8}, "y": {"datum": 1.392, "type": "quantitative"}}},
 {"data": {"values": [{}]}, "mark": {"type": "rule", "color": "#8fb0e6", "strokeWidth": 1.5}, "encoding": {"x": {"datum": 3.8, "type": "quantitative"}, "y": {"datum": 0.366, "type": "quantitative"}, "y2": {"datum": 1.392}}},
 {"data": {"name": "sig"}, "transform": [{"filter": "datum.p=='Onion' && datum.s=='F'"}, {"flatten": ["t","v"]}], "mark": {"type": "line", "color": "#ff5050", "strokeWidth": 1, "clip": true}, "encoding": {"x": {"field": "t", "type": "quantitative"}, "y": {"field": "v", "type": "quantitative"}}},
 {"data": {"name": "sig"}, "transform": [{"filter": "datum.p=='Onion' && datum.s=='C'"}, {"flatten": ["t","v"]}], "mark": {"type": "line", "color": "#6e6e6e", "strokeWidth": 1, "clip": true}, "encoding": {"x": {"field": "t", "type": "quantitative"}, "y": {"field": "v", "type": "quantitative"}}},
 {"data": {"name": "ann"}, "transform": [{"filter": "datum.p=='Onion' && datum.k=='name'"}], "mark": {"type": "text", "align": "left", "baseline": "middle", "fontSize": 16}, "encoding": {"x": {"field": "x", "type": "quantitative"}, "y": {"field": "y", "type": "quantitative"}, "text": {"field": "txt"}}},
 {"data": {"name": "ann"}, "transform": [{"filter": "datum.p=='Onion' && datum.k=='lbl'"}], "mark": {"type": "text", "align": "center", "baseline": "middle", "fontSize": 12}, "encoding": {"x": {"field": "x", "type": "quantitative"}, "y": {"field": "y", "type": "quantitative"}, "text": {"field": "txt"}}},
 {"data": {"name": "ann"}, "transform": [{"filter": "datum.p=='Onion' && datum.k=='arrow'"}], "mark": {"type": "rule", "color": "black", "strokeWidth": 2.5}, "encoding": {"x": {"field": "x", "type": "quantitative"}, "y": {"field": "y", "type": "quantitative"}, "x2": {"field": "x2"}, "y2": {"field": "y2"}}},
 {"data": {"name": "ann"}, "transform": [{"filter": "datum.p=='Onion' && datum.k=='arrow'"}], "mark": {"type": "point", "shape": "M0,0L0.85,2L-0.85,2Z", "filled": true, "color": "black", "opacity": 1, "size": 144, "angle": 240}, "encoding": {"x": {"field": "x2", "type": "quantitative"}, "y": {"field": "y2", "type": "quantitative"}}}
]},
{"width": 386, "height": 277, "layer": [
 {"data": {"values": [{}]}, "mark": {"type": "rect", "color": "#f0f0f0"}, "encoding": {
   "x": {"datum": 2.7383, "type": "quantitative", "scale": {"domain": [2.8, 3.792], "nice": false, "zero": false}, "axis": {"zindex": 1, "tickCount": 100, "labelOverlap": false, "format": ".3~g", "values": [2.85,2.9,2.95,3,3.05,3.1,3.15,3.2,3.25,3.3,3.35,3.4,3.45,3.5,3.55,3.6,3.65,3.7,3.75], "title": "Counts vs. Acquisition Time (min)"}},
   "x2": {"datum": 3.792},
   "y": {"datum": 0.3085, "type": "quantitative", "scale": {"domain": [0.39, 1.416], "nice": false, "zero": false}, "axis": {"zindex": 1, "tickCount": 100, "labelOverlap": false, "format": ".3~g", "values": [0.4,0.45,0.5,0.55,0.6,0.65,0.7,0.75,0.8,0.85,0.9,0.95,1,1.05,1.1,1.15,1.2,1.25,1.3,1.35], "title": "×10⁵"}},
   "y2": {"datum": 1.431}}},
 {"data": {"values": [{}]}, "mark": {"type": "rect", "color": "white"}, "encoding": {"x": {"datum": 2.8, "type": "quantitative"}, "x2": {"datum": 3.792}, "y": {"datum": 0.39, "type": "quantitative"}, "y2": {"datum": 1.416}}},
 {"data": {"values": [{}]}, "mark": {"type": "rule", "color": "#8fb0e6", "strokeWidth": 1.5}, "encoding": {"x": {"datum": 2.8, "type": "quantitative"}, "x2": {"datum": 3.792}, "y": {"datum": 1.416, "type": "quantitative"}}},
 {"data": {"name": "sig"}, "transform": [{"filter": "datum.p=='Bulbs' && datum.s=='F'"}, {"flatten": ["t","v"]}], "mark": {"type": "line", "color": "#ff5050", "strokeWidth": 1, "clip": true}, "encoding": {"x": {"field": "t", "type": "quantitative"}, "y": {"field": "v", "type": "quantitative"}}},
 {"data": {"name": "sig"}, "transform": [{"filter": "datum.p=='Bulbs' && datum.s=='C'"}, {"flatten": ["t","v"]}], "mark": {"type": "line", "color": "#6e6e6e", "strokeWidth": 1, "clip": true}, "encoding": {"x": {"field": "t", "type": "quantitative"}, "y": {"field": "v", "type": "quantitative"}}},
 {"data": {"name": "ann"}, "transform": [{"filter": "datum.p=='Bulbs' && datum.k=='name'"}], "mark": {"type": "text", "align": "left", "baseline": "middle", "fontSize": 16}, "encoding": {"x": {"field": "x", "type": "quantitative"}, "y": {"field": "y", "type": "quantitative"}, "text": {"field": "txt"}}},
 {"data": {"name": "ann"}, "transform": [{"filter": "datum.p=='Bulbs' && datum.k=='lbl'"}], "mark": {"type": "text", "align": "center", "baseline": "middle", "fontSize": 12}, "encoding": {"x": {"field": "x", "type": "quantitative"}, "y": {"field": "y", "type": "quantitative"}, "text": {"field": "txt"}}},
 {"data": {"name": "ann"}, "transform": [{"filter": "datum.p=='Bulbs' && datum.k=='arrow'"}], "mark": {"type": "rule", "color": "black", "strokeWidth": 2.5}, "encoding": {"x": {"field": "x", "type": "quantitative"}, "y": {"field": "y", "type": "quantitative"}, "x2": {"field": "x2"}, "y2": {"field": "y2"}}},
 {"data": {"name": "ann"}, "transform": [{"filter": "datum.p=='Bulbs' && datum.k=='arrow'"}], "mark": {"type": "point", "shape": "M0,0L0.85,2L-0.85,2Z", "filled": true, "color": "black", "opacity": 1, "size": 144, "angle": 240}, "encoding": {"x": {"field": "x2", "type": "quantitative"}, "y": {"field": "y2", "type": "quantitative"}}}
]}
]
}
